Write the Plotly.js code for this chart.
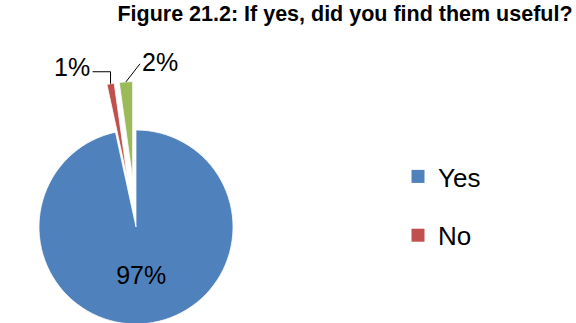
<!DOCTYPE html>
<html>
<head>
<meta charset="utf-8">
<script src="https://cdn.plot.ly/plotly-3.0.1.min.js"></script>
<style>
html,body{margin:0;padding:0;overflow:hidden;background:#fff;width:576px;height:323px;}
#chart{position:absolute;left:-20px;top:0;width:616px;height:400px;}
</style>
</head>
<body>
<div id="chart"></div>
<script>
const categories = ["Yes", "No", "No response"];
const values = [96.6, 1.2, 2.2];
const colors = ["#4F81BD", "#C0504D", "#9BBB59"];
const pulls = [0, 0.5, 0.5];
const legendCategories = ["Yes", "No"];
const titleText = "Figure 21.2: If yes, did you find them useful?";

const font = "Liberation Sans, Arial, sans-serif";
const W = 616, H = 400;
const domX = [10.5 / W, 301.5 / W];
const domY = [1 - 372.5 / H, 1 - 81.5 / H];

const traces = [{
  type: "pie",
  labels: categories,
  values: values,
  sort: false,
  direction: "clockwise",
  rotation: 0,
  pull: pulls,
  marker: {colors: colors, line: {color: "#ffffff", width: 0.75}},
  texttemplate: "%{percent:.0%}",
  textposition: ["inside", "none", "none"],
  textfont: {family: font, size: 25, color: "#000"},
  insidetextfont: {family: font, size: 25, color: "#000"},
  insidetextorientation: "horizontal",
  showlegend: false,
  hoverinfo: "none",
  domain: {x: domX, y: domY}
}];

legendCategories.forEach((c, i) => {
  traces.push({
    type: "scatter",
    mode: "markers",
    x: [null], y: [null],
    name: c,
    legendgroup: "g" + i,
    marker: {symbol: "square", size: 13, color: colors[i]},
    showlegend: true,
    hoverinfo: "none"
  });
});

// Outside labels for the small (pulled) slices, anchored to the slice tips
// computed from the data and the pie geometry.
const total = values.reduce((a, b) => a + b, 0);
const bx0 = domX[0] * W, bx1 = domX[1] * W;
const by0 = (1 - domY[1]) * H, by1 = (1 - domY[0]) * H;
const cx = (bx0 + bx1) / 2, cy = (by0 + by1) / 2;
const r = Math.min(bx1 - bx0, by1 - by0) / 2 / (1 + Math.max(...pulls));
let cum = 0;
const tips = values.map((v, i) => {
  const a0 = cum / total * 2 * Math.PI;
  cum += v;
  const a1 = cum / total * 2 * Math.PI;
  const m = (a0 + a1) / 2;
  const rr = r * (1 + pulls[i]);
  return [cx + rr * Math.sin(m), cy - rr * Math.cos(m)];
});
const px = x => x / W, py = y => 1 - y / H;
const pct = i => Math.round(values[i] / total * 100) + "%";

const annotations = [];
const shapes = [];
// "No" label: elbow leader to the left
{
  const [tx, ty] = tips[1];
  const ey = ty - 12, ex = tx - 18;
  shapes.push({type: "path", xref: "paper", yref: "paper",
    path: `M ${px(tx)},${py(ty)} L ${px(tx)},${py(ey)} L ${px(ex)},${py(ey)}`,
    line: {color: "#000", width: 1}});
  annotations.push({xref: "paper", yref: "paper", x: px(ex - 1), y: py(ey - 5),
    xanchor: "right", yanchor: "middle", showarrow: false, text: pct(1),
    font: {family: font, size: 25, color: "#000"}});
}
// third slice label: diagonal leader to the right
{
  const [tx, ty] = tips[2];
  const ex = tx + 14, ey = ty - 18;
  shapes.push({type: "path", xref: "paper", yref: "paper",
    path: `M ${px(tx)},${py(ty)} L ${px(ex)},${py(ey)}`,
    line: {color: "#000", width: 1}});
  annotations.push({xref: "paper", yref: "paper", x: px(ex), y: py(ey - 2),
    xanchor: "left", yanchor: "middle", showarrow: false, text: pct(2),
    font: {family: font, size: 25, color: "#000"}});
}

const layout = {
  width: W, height: H,
  margin: {l: 0, r: 0, t: 0, b: 0},
  paper_bgcolor: "#fff",
  plot_bgcolor: "rgba(0,0,0,0)",
  title: {
    text: titleText,
    font: {family: font, size: 21.5, color: "#000", weight: "bold"},
    x: 365 / W, xref: "paper", xanchor: "center",
    y: 1 - 13 / H, yref: "container", yanchor: "middle"
  },
  xaxis: {visible: false},
  yaxis: {visible: false},
  showlegend: true,
  legend: {
    x: 418 / W, xanchor: "left",
    y: 1 - 153 / H, yanchor: "top",
    font: {family: font, size: 26, color: "#000"},
    tracegroupgap: 22,
    bgcolor: "rgba(0,0,0,0)"
  },
  annotations: annotations,
  shapes: shapes
};

Plotly.newPlot("chart", traces, layout, {staticPlot: true, displayModeBar: false});
</script>
</body>
</html>
